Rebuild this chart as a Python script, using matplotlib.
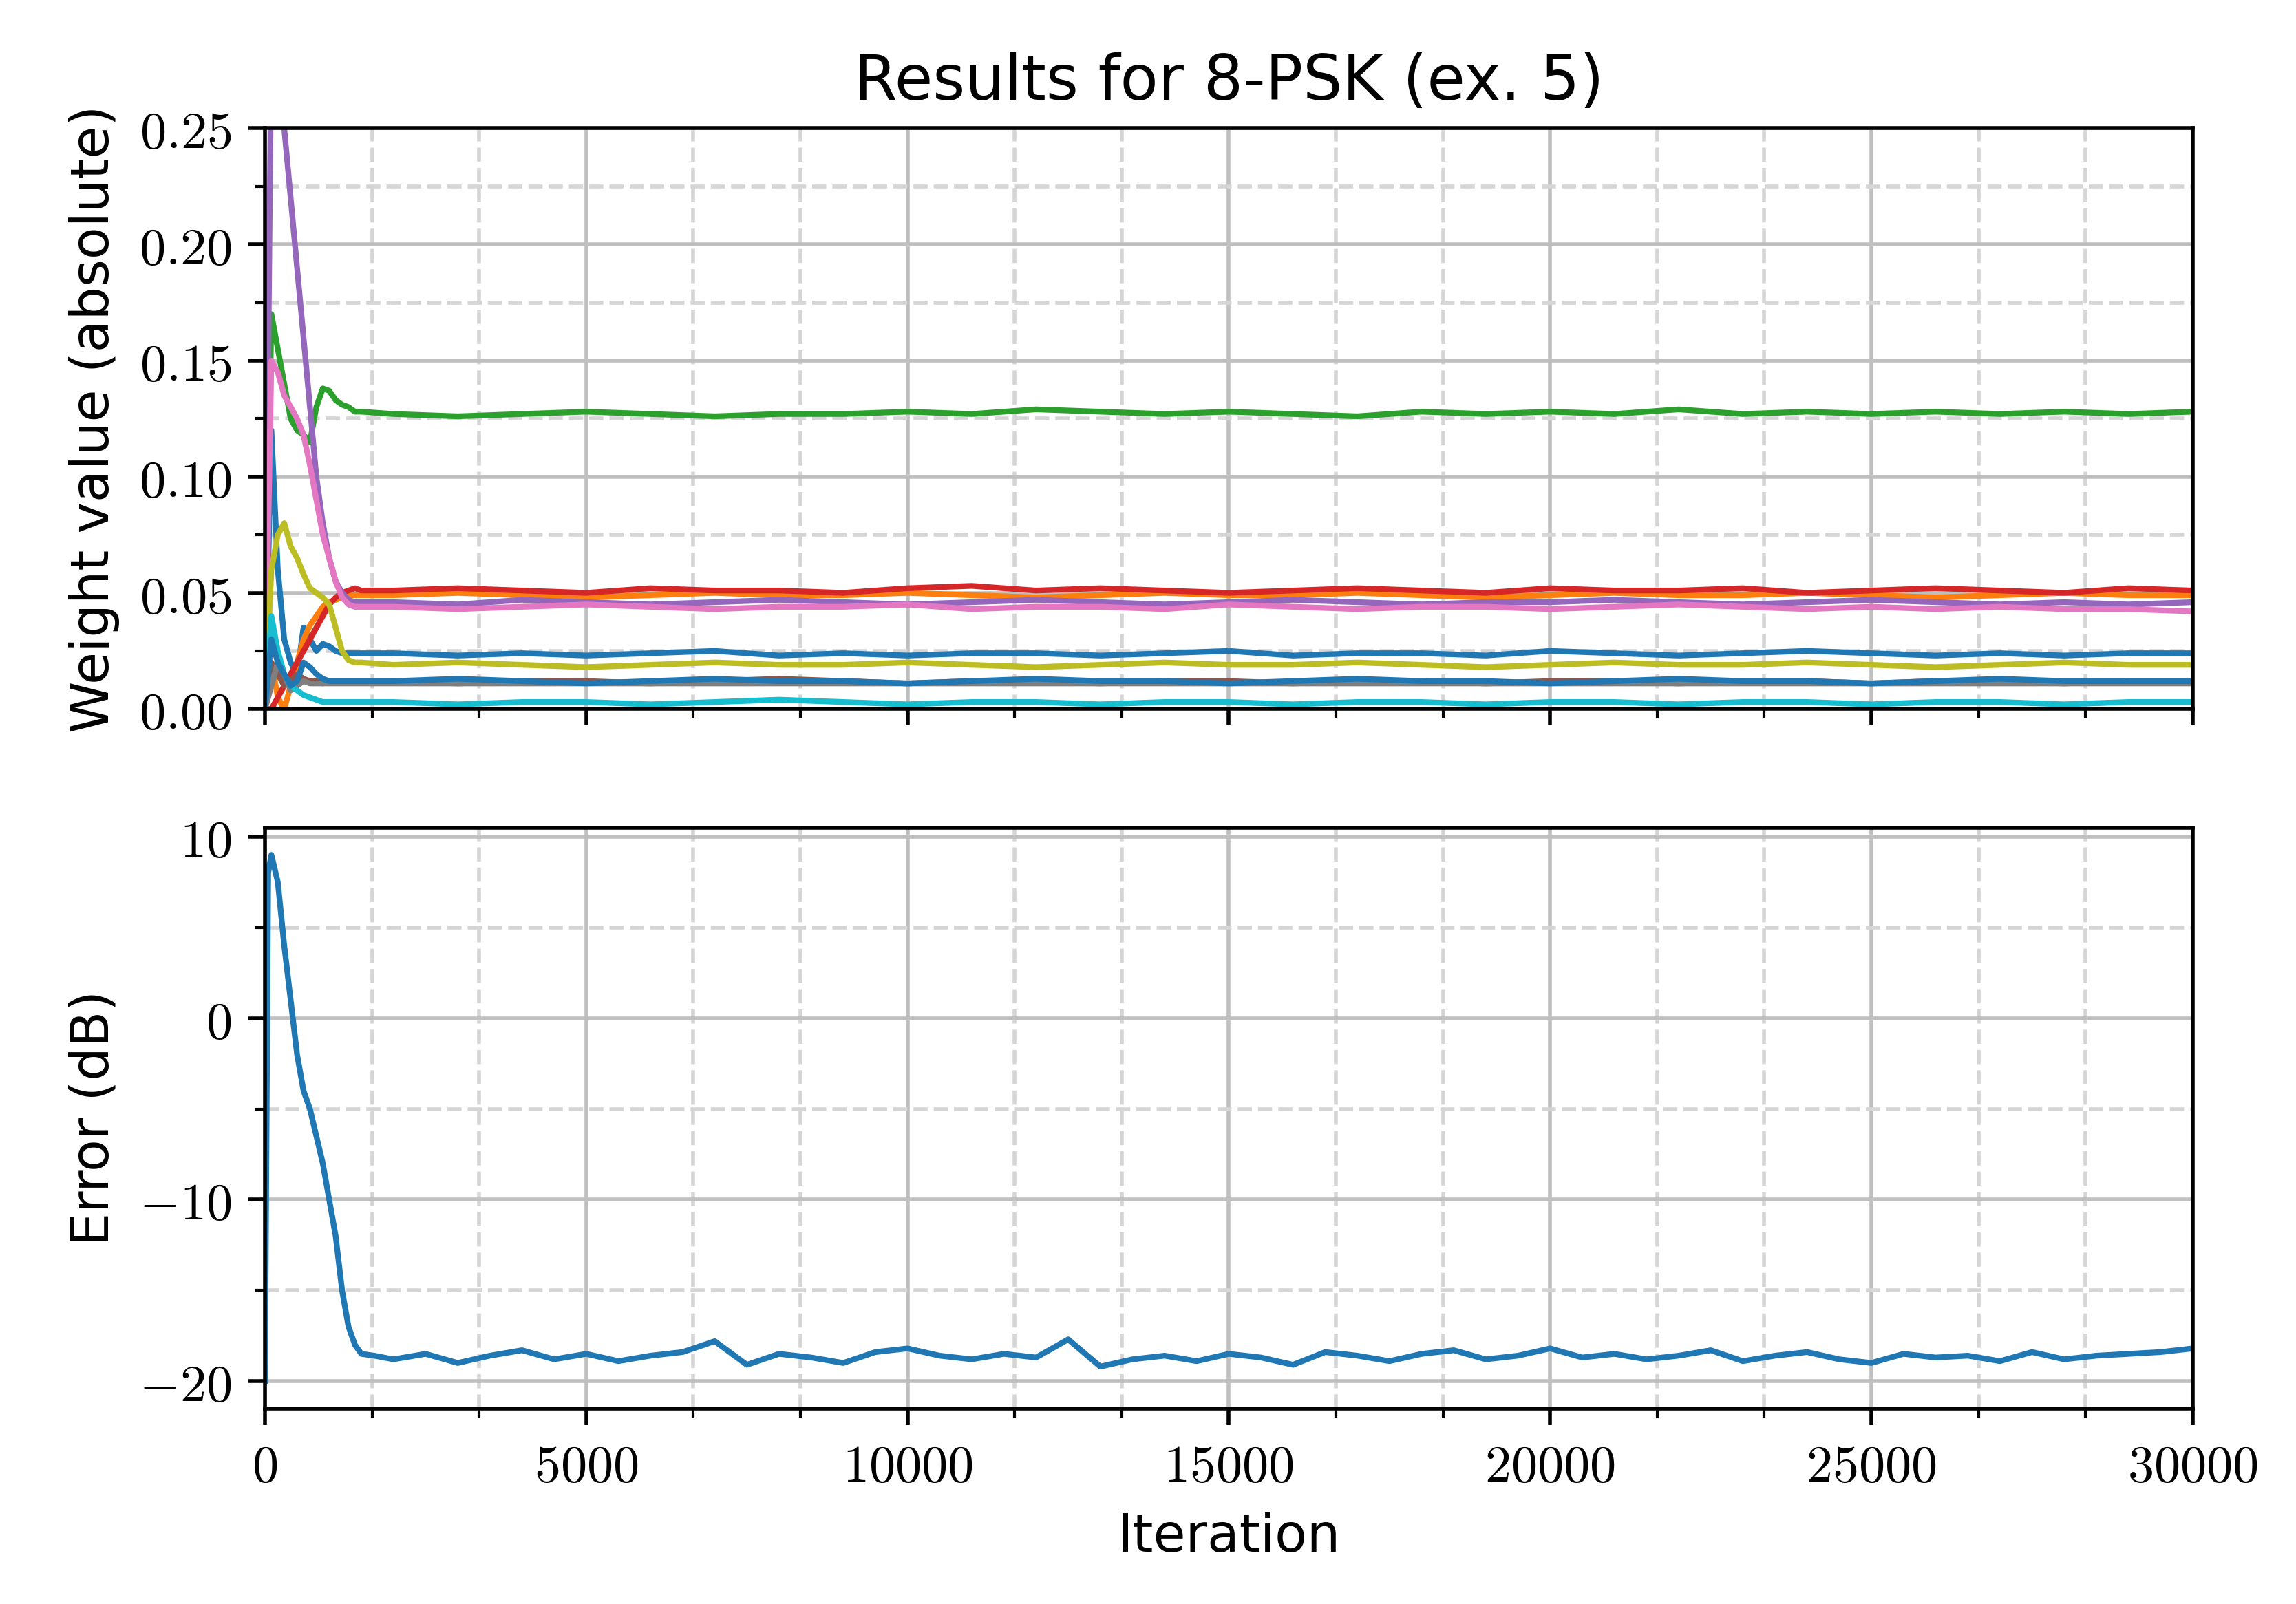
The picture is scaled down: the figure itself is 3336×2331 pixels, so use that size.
import matplotlib.pyplot as plt
import numpy as np
from matplotlib.ticker import AutoMinorLocator, FuncFormatter, MultipleLocator

plt.rcParams['mathtext.fontset'] = 'cm'

# weight curves: early part (dense) + late part (every 1000 iterations)
x_early = [0, 100, 200, 300, 400, 500, 600, 700, 800, 900, 1000, 1100, 1200, 1300, 1400, 1500]
x_late = list(range(2000, 30001, 1000))

w_blue1_e = [0, 0.12, 0.06, 0.03, 0.02, 0.015, 0.035, 0.030, 0.025, 0.028, 0.027, 0.025, 0.024, 0.024, 0.024, 0.024]
w_blue1_l = [0.024, 0.023, 0.024, 0.023, 0.024, 0.025, 0.023, 0.024, 0.023, 0.024, 0.024, 0.023, 0.024, 0.025, 0.023, 0.024,
             0.024, 0.023, 0.025, 0.024, 0.023, 0.024, 0.025, 0.024, 0.023, 0.024, 0.023, 0.024, 0.024]
w_orange_e = [0, 0.02, 0.005, 0.0, 0.01, 0.02, 0.03, 0.036, 0.040, 0.044, 0.046, 0.047, 0.048, 0.049, 0.049, 0.049]
w_orange_l = [0.049, 0.050, 0.049, 0.048, 0.049, 0.050, 0.049, 0.049, 0.050, 0.049, 0.048, 0.049, 0.050, 0.049, 0.049, 0.050,
              0.049, 0.048, 0.049, 0.050, 0.049, 0.049, 0.050, 0.049, 0.048, 0.049, 0.050, 0.049, 0.049]
w_green_e = [0, 0.17, 0.155, 0.14, 0.125, 0.12, 0.118, 0.115, 0.13, 0.138, 0.137, 0.133, 0.131, 0.130, 0.128, 0.128]
w_green_l = [0.127, 0.126, 0.127, 0.128, 0.127, 0.126, 0.127, 0.127, 0.128, 0.127, 0.129, 0.128, 0.127, 0.128, 0.127, 0.126,
             0.128, 0.127, 0.128, 0.127, 0.129, 0.127, 0.128, 0.127, 0.128, 0.127, 0.128, 0.127, 0.128]
w_red_e = [0, 0.0, 0.005, 0.01, 0.015, 0.02, 0.025, 0.03, 0.035, 0.04, 0.045, 0.048, 0.050, 0.051, 0.052, 0.051]
w_red_l = [0.051, 0.052, 0.051, 0.050, 0.052, 0.051, 0.051, 0.050, 0.052, 0.053, 0.051, 0.052, 0.051, 0.050, 0.051, 0.052,
           0.051, 0.050, 0.052, 0.051, 0.051, 0.052, 0.050, 0.051, 0.052, 0.051, 0.050, 0.052, 0.051]
w_purple_e = [0, 0.29, 0.27, 0.25, 0.22, 0.19, 0.16, 0.13, 0.10, 0.08, 0.065, 0.055, 0.050, 0.047, 0.046, 0.046]
w_purple_l = [0.046, 0.045, 0.047, 0.046, 0.045, 0.046, 0.047, 0.046, 0.045, 0.046, 0.047, 0.046, 0.045, 0.046, 0.047, 0.046,
              0.045, 0.046, 0.046, 0.047, 0.046, 0.045, 0.046, 0.047, 0.046, 0.045, 0.046, 0.045, 0.046]
w_brown_e = [0, 0.02, 0.015, 0.01, 0.012, 0.015, 0.013, 0.012, 0.012, 0.011, 0.012, 0.012, 0.012, 0.012, 0.012, 0.012]
w_brown_l = [0.012, 0.011, 0.012, 0.012, 0.011, 0.012, 0.013, 0.012, 0.011, 0.012, 0.012, 0.011, 0.012, 0.012, 0.011, 0.012,
             0.012, 0.011, 0.012, 0.012, 0.011, 0.012, 0.012, 0.011, 0.012, 0.012, 0.011, 0.012, 0.012]
w_pink_e = [0, 0.15, 0.145, 0.135, 0.13, 0.125, 0.118, 0.105, 0.09, 0.075, 0.065, 0.055, 0.048, 0.045, 0.044, 0.044]
w_pink_l = [0.044, 0.043, 0.044, 0.045, 0.044, 0.043, 0.044, 0.044, 0.045, 0.043, 0.044, 0.044, 0.043, 0.045, 0.044, 0.043,
            0.044, 0.044, 0.043, 0.044, 0.045, 0.044, 0.043, 0.044, 0.043, 0.044, 0.043, 0.043, 0.042]
w_gray_e = [0, 0.01, 0.02, 0.015, 0.008, 0.010, 0.012, 0.011, 0.011, 0.011, 0.011, 0.011, 0.011, 0.011, 0.011, 0.011]
w_gray_l = [0.011] * 29
w_olive_e = [0, 0.06, 0.075, 0.08, 0.07, 0.065, 0.058, 0.052, 0.050, 0.048, 0.045, 0.035, 0.025, 0.021, 0.020, 0.020]
w_olive_l = [0.019, 0.020, 0.019, 0.018, 0.019, 0.020, 0.019, 0.019, 0.020, 0.019, 0.018, 0.019, 0.020, 0.019, 0.019, 0.020,
             0.019, 0.018, 0.019, 0.020, 0.019, 0.019, 0.020, 0.019, 0.018, 0.019, 0.020, 0.019, 0.019]
w_cyan_e = [0, 0.04, 0.025, 0.015, 0.010, 0.008, 0.006, 0.005, 0.004, 0.003, 0.003, 0.003, 0.003, 0.003, 0.003, 0.003]
w_cyan_l = [0.003, 0.002, 0.003, 0.003, 0.002, 0.003, 0.004, 0.003, 0.002, 0.003, 0.003, 0.002, 0.003, 0.003, 0.002, 0.003,
            0.003, 0.002, 0.003, 0.003, 0.002, 0.003, 0.003, 0.002, 0.003, 0.003, 0.002, 0.003, 0.003]
w_blue2_e = [0, 0.03, 0.02, 0.015, 0.010, 0.012, 0.020, 0.018, 0.015, 0.013, 0.012, 0.012, 0.012, 0.012, 0.012, 0.012]
w_blue2_l = [0.012, 0.013, 0.012, 0.011, 0.012, 0.013, 0.012, 0.012, 0.011, 0.012, 0.013, 0.012, 0.012, 0.011, 0.012, 0.013,
             0.012, 0.012, 0.011, 0.012, 0.013, 0.012, 0.012, 0.011, 0.012, 0.013, 0.012, 0.012, 0.012]

weights = [(w_blue1_e, w_blue1_l), (w_orange_e, w_orange_l), (w_green_e, w_green_l), (w_red_e, w_red_l),
           (w_purple_e, w_purple_l), (w_brown_e, w_brown_l), (w_pink_e, w_pink_l), (w_gray_e, w_gray_l),
           (w_olive_e, w_olive_l), (w_cyan_e, w_cyan_l), (w_blue2_e, w_blue2_l)]

# error curve
err_x = [0, 50, 100, 200, 300, 400, 500, 600, 700, 800, 900, 1000, 1100, 1200, 1300, 1400, 1500, 1700, 2000] + list(range(2500, 30001, 500))
err_y = [-20, 8, 9, 7.5, 4, 1, -2, -4, -5, -6.5, -8, -10, -12, -15, -17, -18, -18.5, -18.6, -18.8,
         -18.5, -19.0, -18.6, -18.3, -18.8, -18.5, -18.9, -18.6, -18.4, -17.8, -19.1, -18.5, -18.7, -19.0,
         -18.4, -18.2, -18.6, -18.8, -18.5, -18.7, -17.7, -19.2, -18.8, -18.6, -18.9, -18.5, -18.7, -19.1,
         -18.4, -18.6, -18.9, -18.5, -18.3, -18.8, -18.6, -18.2, -18.7, -18.5, -18.8, -18.6, -18.3, -18.9,
         -18.6, -18.4, -18.8, -19.0, -18.5, -18.7, -18.6, -18.9, -18.4, -18.8, -18.6, -18.5, -18.4, -18.2]

fig = plt.figure(figsize=(6.672, 4.662), dpi=500)
ax1 = fig.add_axes([0.1154, 0.558, 0.8396, 0.362])
ax2 = fig.add_axes([0.1154, 0.122, 0.8396, 0.362], sharex=ax1)

for i, (e, l) in enumerate(weights):
    ax1.plot(x_early + x_late, e + l, color='C%d' % (i % 10), lw=1.2)
ax2.plot(err_x, err_y, color='C0', lw=1.2)

ax1.set_ylim(0, 0.25)
ax1.yaxis.set_major_locator(MultipleLocator(0.05))
ax1.yaxis.set_major_formatter(FuncFormatter(lambda v, p: '$%.2f$' % v))
ax2.set_ylim(-21.5, 10.5)
ax2.yaxis.set_major_locator(MultipleLocator(10))
ax2.yaxis.set_major_formatter(FuncFormatter(lambda v, p: '$%d$' % round(v)))
ax2.set_xlim(0, 30000)
ax2.xaxis.set_major_locator(MultipleLocator(5000))
ax2.xaxis.set_major_formatter(FuncFormatter(lambda v, p: '$%d$' % round(v)))
plt.setp(ax1.get_xticklabels(), visible=False)

for ax in (ax1, ax2):
    ax.xaxis.set_minor_locator(AutoMinorLocator(3))
    ax.yaxis.set_minor_locator(AutoMinorLocator(2))
    ax.grid(True, which='major', color='#bfbfbf', lw=0.8)
    ax.grid(True, which='minor', color='#d5d5d5', lw=0.8, ls='--')
    ax.set_axisbelow(True)
    ax.tick_params(labelsize=11)

ax1.set_title('Results for 8-PSK (ex. 5)', fontsize=13)
ax1.set_ylabel('Weight value (absolute)', fontsize=11)
ax2.set_ylabel('Error (dB)', fontsize=11)
ax2.set_xlabel('Iteration', fontsize=11)
fig.align_ylabels([ax1, ax2])

fig.savefig('out.png', dpi=500)
